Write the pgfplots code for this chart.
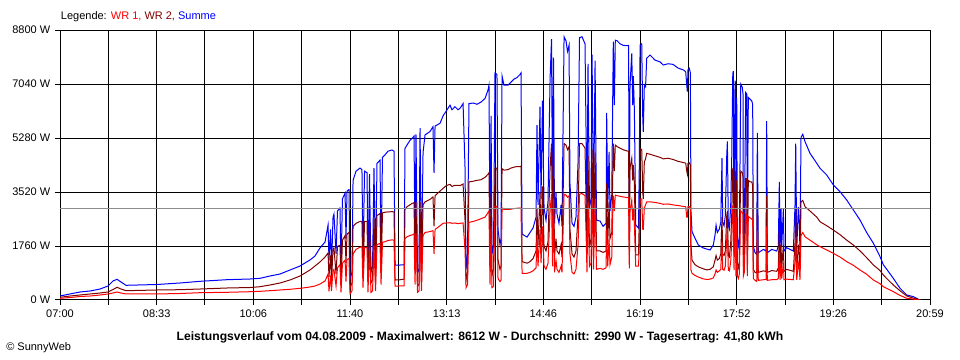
\documentclass[border=0pt]{standalone}
\usepackage{pgfplots}
\pgfplotsset{compat=1.18}
\usepackage{pgfplotstable}
\usepackage{fontspec}
\setmainfont{Liberation Sans}
\definecolor{wrone}{RGB}{255,0,0}
\definecolor{wrtwo}{RGB}{128,0,0}
\definecolor{summe}{RGB}{0,0,255}
\definecolor{avgline}{RGB}{140,140,140}
\pgfplotstableread{
t sum wr2 wr1
0.0 130 88 55
9.6 196 130 81
19.3 261 163 114
28.9 293 196 130
38.6 358 228 163
46.3 456 261 196
51.1 619 342 228
55.0 675 414 261
58.8 587 358 228
63.7 479 303 196
93.5 505 326 196
115.7 554 336 212
135.0 609 358 238
161.1 662 391 251
183.2 684 407 270
192.9 707 433 283
202.5 782 489 303
212.2 847 554 326
221.8 978 652 349
231.5 1108 782 381
236.3 1206 880 401
241.1 1304 978 424
245.9 1434 1108 456
250.7 1695 1238 521
255.6 1890 1401 619
258.5 2444 1532 847
259.4 1300 750 280
260.9 2300 1450 800
261.8 1000 600 300
263.3 2700 1650 950
264.2 2800 1700 1000
266.2 1500 850 450
267.6 2900 1750 1050
270.0 3000 1780 1150
271.0 1000 550 250
272.4 3300 1950 1200
274.9 3480 2100 1300
275.8 2000 1200 600
276.8 3550 2150 1320
278.7 3600 2200 1350
279.7 700 400 200
281.6 900 550 300
282.6 3900 2400 1500
285.5 4200 2500 1650
289.3 4300 2560 1720
291.2 4250 2560 1740
292.2 1300 700 400
293.7 4200 2560 1720
296.1 4150 2560 1700
297.0 1000 600 250
298.5 4100 2560 1700
299.9 900 550 250
301.4 1100 650 300
302.8 4300 2650 1760
304.3 1000 600 300
305.7 4450 2750 1800
308.6 4560 2820 1850
309.6 1500 900 500
311.0 4650 2840 1880
313.4 4730 2860 1900
316.3 4850 2870 1940
320.2 4890 2880 1960
322.1 4850 2870 1950
323.1 1140 650 450
327.9 1140 660 460
331.8 1150 680 460
332.7 4940 2950 2000
334.6 5050 3040 2060
337.5 5200 3100 2100
339.5 5270 3150 2120
341.4 5340 3170 2150
342.4 1600 900 500
343.3 5400 3180 2160
344.8 880 450 250
346.2 1000 500 300
347.2 5600 3200 2180
348.6 1000 550 300
350.1 4800 3100 2100
352.0 5380 3200 2200
356.8 5490 3280 2230
359.7 5650 3360 2260
360.7 4140 2400 1500
361.7 5670 3400 2300
366.5 5760 3550 2420
369.4 6000 3640 2500
372.3 6150 3720 2510
374.2 6250 3750 2510
376.1 6350 3770 2520
378.0 6200 3700 2500
380.9 6300 3740 2510
383.8 6200 3740 2490
385.8 6250 3730 2500
388.7 6400 3780 2510
390.6 4300 2600 1650
391.6 1000 650 400
393.0 1500 900 500
394.4 6400 3850 2530
398.3 6420 3870 2560
402.2 6380 3900 2600
406.0 6450 3920 2650
409.9 6570 4000 2700
412.8 6850 4100 2850
413.7 7000 4150 2900
414.7 2000 1000 500
415.7 6000 3500 2400
416.6 1500 800 400
418.1 1800 1000 450
419.5 7400 4300 3050
421.4 7350 4300 3050
422.4 2300 1300 700
424.3 1800 1000 600
425.3 2000 1100 650
426.3 7300 4280 3000
428.2 7000 4230 2950
432.0 7000 4250 2950
434.9 7100 4300 2960
437.8 7200 4330 2980
440.7 7250 4350 2990
443.6 7350 4350 3000
444.6 7400 4360 2990
445.6 2150 1250 870
450.4 2050 1200 870
453.3 2200 1250 900
456.2 2350 1350 950
459.1 2700 1600 1050
460.0 5700 3000 2100
461.0 3100 1800 1100
462.9 6300 3500 2300
463.9 3300 1900 1200
465.3 6500 3700 2400
466.8 3000 1750 1100
468.7 2600 1600 1000
470.6 3200 1900 1200
472.6 7200 4300 2900
474.0 8500 5100 3450
475.0 3000 1800 1100
475.9 7900 4800 3300
476.9 2500 1400 900
478.3 3500 2000 1300
479.3 2800 1600 1000
481.2 2500 1500 900
483.2 3100 1800 1100
484.1 2400 1400 900
486.1 8580 5100 3450
488.0 8450 5050 3420
489.4 8100 4900 3350
490.9 8300 5000 3400
491.8 3800 2300 1500
493.8 2500 1500 900
495.7 2400 1400 850
497.6 2700 1600 1000
499.6 4500 2800 1800
501.0 8550 5100 3450
503.4 8580 5100 3470
506.3 8350 4950 3400
507.3 5500 3300 2200
508.2 2600 1500 900
509.2 7700 4700 3200
510.6 3000 1700 1100
512.1 3300 2000 1200
513.1 8000 4900 3300
514.5 2700 1600 1000
516.0 7800 4800 3250
517.4 2600 1600 1000
520.8 2575 1600 1030
523.7 2400 1550 1000
526.6 2500 1600 1050
527.2 6100 3800 2300
528.2 2880 1800 1100
529.5 4830 3200 2000
530.4 2900 2000 1150
532.1 3420 2200 1400
533.0 6500 4000 2800
533.6 8420 5100 3400
534.6 6350 4200 2900
535.5 8470 5050 3420
537.2 8450 5000 3400
540.1 8350 4950 3380
543.0 8300 4900 3360
546.5 8290 4860 3340
548.3 8300 4850 3330
549.0 2450 1470 1030
549.7 7000 4300 2900
551.4 8040 4620 3250
552.3 6350 3900 2600
552.9 7300 4400 3000
553.9 6200 3800 2500
555.2 2450 1470 1100
557.9 2340 1470 1100
558.7 4500 2700 1800
559.4 8310 4940 3300
561.0 8350 4900 3300
562.0 5920 3500 2300
562.5 5480 3300 2300
563.5 7000 4500 3000
564.7 6950 4600 3100
565.8 7880 4780 3200
569.0 7985 4750 3200
573.8 7820 4700 3180
578.6 7760 4650 3150
581.8 7660 4600 3120
586.4 7700 4620 3130
591.2 7680 4580 3100
596.0 7560 4520 3080
601.1 7500 4480 3050
603.4 7440 4460 3040
604.4 7000 4200 2700
605.0 6790 4100 2700
605.6 7500 4450 3040
606.9 7550 4470 3040
607.9 7400 4400 3000
608.5 2880 1800 980
609.5 2230 1300 870
612.4 2010 1150 800
615.6 1790 1080 750
620.1 1700 1020 690
623.7 1660 980 670
626.9 1630 1000 680
630.0 1790 1080 720
631.7 2120 1300 850
632.7 2440 1450 980
633.9 2200 1300 900
635.8 2310 1350 950
637.2 2530 1500 1000
638.4 4620 2700 1900
639.1 2530 1500 1000
640.4 2420 1450 970
641.6 2750 1600 1100
643.0 4730 2750 2000
643.6 5170 2900 2300
644.5 2420 1450 970
645.5 2310 1400 950
646.8 3080 1850 1250
647.8 4620 2800 1900
648.8 7370 4290 3080
649.3 7460 4300 3100
650.0 2420 1450 970
651.0 7150 4200 2950
651.6 7040 4150 2900
651.9 1980 1200 780
652.6 6600 3900 2700
653.2 1980 1200 780
654.2 1760 1050 700
655.1 2090 1250 840
656.5 7040 4200 2900
658.0 6930 4150 2850
658.7 6710 4000 2800
659.0 1980 1200 780
659.9 2200 1300 900
661.3 6765 3960 2800
662.3 6710 3950 2780
662.8 1980 1200 780
663.8 6600 3900 2720
665.4 6545 3850 2680
667.1 6490 3850 2640
668.0 6380 3740 2600
668.6 1760 1000 700
670.3 1540 900 640
671.9 1485 880 605
672.5 5445 3200 2250
673.4 1540 900 640
678.3 1650 950 660
680.9 1595 930 660
681.5 5830 3400 2400
682.1 1540 900 640
686.4 1650 960 660
691.2 1595 935 660
692.7 1760 1050 700
693.7 3850 2300 1550
694.4 1595 935 660
695.3 2970 1800 1200
696.0 1760 1050 700
697.6 2970 1800 1200
698.2 1595 935 660
700.8 1705 1000 680
707.2 1595 935 660
708.8 3080 1850 1250
709.5 5100 3000 2050
710.5 1650 935 660
712.0 3025 1800 1200
713.0 2420 1450 970
713.6 1650 935 660
714.6 5300 3200 2100
716.3 5400 3245 2200
718.5 5160 3040 2060
723.3 4780 2900 1950
729.8 4455 2700 1800
733.0 4290 2550 1738
739.4 4074 2420 1630
745.8 3748 2280 1520
752.2 3530 2130 1400
758.7 3259 1950 1250
765.1 2933 1792 1130
771.5 2607 1600 978
777.9 2200 1380 840
784.4 1850 1141 652
790.8 1412 960 530
794.0 1150 815 434
797.3 1000 700 380
803.6 706 489 272
810.1 381 300 150
816.6 163 130 55
822.9 109 60 30
826.2 55 40 10
827.7 22 20 0
829.4 0 0 0
}\chartdata
\begin{document}
\begin{tikzpicture}
\useasboundingbox (0,0) rectangle (720pt,270pt);
\begin{axis}[
  at={(45pt,45pt)}, anchor=south west, scale only axis,
  width=652.5pt, height=202.5pt,
  xmin=0, xmax=839, ymin=0, ymax=8800,
  xtick={0,46.61,93.22,139.83,186.44,233.06,279.67,326.28,372.89,419.5,466.11,512.72,559.33,605.94,652.56,699.17,745.78,792.39,839},
  xticklabels={07:00,,08:33,,10:06,,11:40,,13:13,,14:46,,16:19,,17:52,,19:26,,20:59},
  ytick={0,1760,3520,5280,7040,8800},
  yticklabels={0 W,1760 W,3520 W,5280 W,7040 W,8800 W},
  tick label style={font=\fontsize{8.25}{10}\selectfont, text=black},
  grid=major,
  major grid style={black, line width=0.75pt},
  axis line style={black, line width=0.75pt},
  tick style={black, line width=0.75pt},
  tick align=outside, major tick length=3.75pt,
  xtick pos=bottom, ytick pos=left,
  clip=true,
]
\addplot[summe, line width=0.75pt] table[x=t,y=sum]{\chartdata};
\addplot[wrtwo, line width=0.75pt] table[x=t,y=wr2]{\chartdata};
\addplot[wrone, line width=0.75pt] table[x=t,y=wr1]{\chartdata};
\addplot[avgline, line width=0.75pt] coordinates {(0,2990) (839,2990)};
\end{axis}
\node[anchor=west, inner sep=0pt, font=\fontsize{8.25}{10}\selectfont] at (45.5pt,257.25pt) {Legende: \textcolor{wrone}{WR 1,} \textcolor{wrtwo}{WR 2,} \textcolor{summe}{Summe}};
\node[inner sep=0pt, font=\bfseries\fontsize{9.1}{11}\selectfont] at (360pt,16.9pt) {Leistungsverlauf vom 04.08.2009 - Maximalwert: 8612 W - Durchschnitt: 2990 W - Tagesertrag: 41,80 kWh};
\node[anchor=west, inner sep=0pt, font=\fontsize{8.25}{10}\selectfont] at (4.5pt,9pt) {\textcopyright\ SunnyWeb};
\end{tikzpicture}
\end{document}
